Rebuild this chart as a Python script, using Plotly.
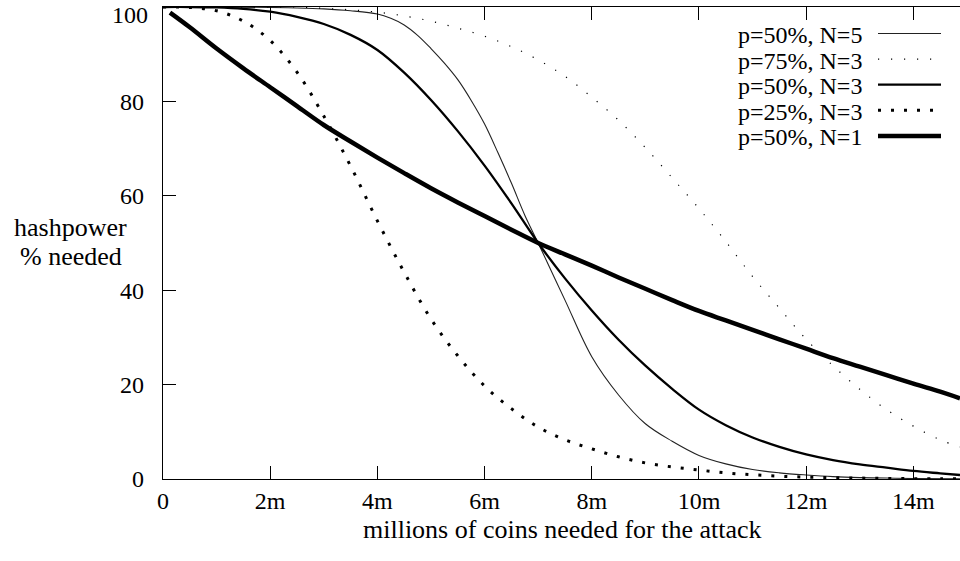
import plotly.graph_objects as go

# ---------------- data ----------------
x_grid = [0, 0.5, 1, 1.5, 2, 2.5, 3, 3.5, 4, 4.5, 5, 5.5, 6, 6.5, 7, 7.5, 8, 8.5,
          9, 9.5, 10, 10.5, 11, 11.5, 12, 12.5, 13, 13.5, 14, 14.5, 14.87]
x_n5 = [0, 1, 2, 2.5, 3, 3.5, 4, 4.25, 4.5, 4.75, 5, 5.25, 5.5, 5.75, 6, 6.25, 6.5,
        6.75, 7, 7.5, 8, 8.5, 9, 9.5, 10, 10.5, 11, 11.5, 12, 12.5, 13, 13.5, 14, 14.87]
x_n1 = [0.13, 0.5, 1, 1.5, 2, 2.5, 3, 3.5, 4, 4.5, 5, 5.5, 6, 6.5, 7, 7.5, 8, 8.5,
        9, 9.5, 10, 10.5, 11, 11.5, 12, 12.5, 13, 13.5, 14, 14.5, 14.87]

y_p50_n5 = [100, 100, 99.9, 99.8, 99.6, 99.2, 98.5, 97.6, 96.2, 94.0, 91.2, 88.1, 84.6,
            80.2, 75.2, 69.1, 62.7, 55.9, 50.0, 37.9, 25.9, 17.8, 11.7, 8.0, 5.0, 3.2,
            2.0, 1.3, 0.85, 0.5, 0.3, 0.2, 0.1, 0.03]
y_p75_n3 = [100, 100, 100, 100, 100, 100, 99.7, 99.4, 98.9, 98.1, 97.0, 95.5, 93.8,
            91.6, 88.8, 85.3, 80.9, 76.0, 70.2, 63.8, 57.3, 50.3, 42.9, 36.2, 29.6,
            24.0, 19.0, 14.7, 11.2, 8.3, 6.8]
y_p50_n3 = [100, 100, 99.9, 99.6, 99.0, 97.9, 96.4, 94.1, 90.9, 86.1, 80.3, 73.7, 66.4,
            58.4, 50.0, 42.5, 35.7, 29.5, 24.0, 19.1, 14.7, 11.4, 8.8, 6.8, 5.2, 4.0,
            3.1, 2.4, 1.7, 1.2, 0.85]
y_p25_n3 = [100, 99.9, 99.2, 97.0, 92.9, 86.2, 76.9, 66.3, 54.7, 43.8, 33.9, 26.1, 19.7,
            14.9, 11.0, 8.3, 6.4, 4.7, 3.4, 2.55, 1.9, 1.3, 0.9, 0.6, 0.4, 0.3, 0.2,
            0.12, 0.08, 0.05, 0.03]
y_p50_n1 = [98.8, 95.7, 91.2, 87.0, 83.0, 79.0, 75.0, 71.5, 68.1, 64.8, 61.6, 58.6, 55.7,
            52.8, 50.0, 47.6, 45.2, 42.7, 40.3, 37.9, 35.6, 33.6, 31.6, 29.6, 27.6, 25.6,
            23.8, 22.0, 20.2, 18.5, 17.1]

series_names = ["p=50%, N=5", "p=75%, N=3", "p=50%, N=3", "p=25%, N=3", "p=50%, N=1"]

x_tick_vals = [0, 2, 4, 6, 8, 10, 12, 14]
x_tick_text = ["0", "2m", "4m", "6m", "8m", "10m", "12m", "14m"]
y_tick_vals = [0, 20, 40, 60, 80, 100]
y_tick_text = ["0", "20", "40", "60", "80", "100"]

x_title = "millions of coins needed for the attack"
y_title_lines = ["hashpower", "% needed"]

# ---------------- styling ----------------
FONT = "Liberation Serif, DejaVu Serif, serif"
FS = 26       # axis titles
FS_KEY = 24   # key entries
FS_TICK = 24  # tick labels
styles = [
    dict(width=1.1, dash="solid", color="#222"),
    dict(width=1.2, dash="1.2px,11.8px", color="#000"),
    dict(width=2.3, dash="solid", color="#000"),
    dict(width=3.0, dash="3px,10px", color="#000"),
    dict(width=4.5, dash="solid", color="#000"),
]
xs = [x_n5, x_grid, x_grid, x_grid, x_n1]
ys = [y_p50_n5, y_p75_n3, y_p50_n3, y_p25_n3, y_p50_n1]

fig = go.Figure()
for name, x, y, st in zip(series_names, xs, ys, styles):
    fig.add_trace(go.Scatter(
        x=x, y=y, mode="lines", name=name, showlegend=False, hoverinfo="skip",
        line=dict(color=st["color"], width=st["width"], dash=st["dash"],
                  shape="spline", smoothing=1.0),
    ))

W, H = 960, 561
L, R, T, B = 163, 0, 7, 82
pw, ph = W - L - R, H - T - B


def px2paper_x(px):
    return (px - L) / pw


def px2paper_y(py):
    return (H - B - py) / ph


annotations = []
shapes = []
# gnuplot-style key: right-aligned text, sample line to its right
for i, (name, st) in enumerate(zip(series_names, styles)):
    yc = 35 + 25.6 * i
    annotations.append(dict(
        x=px2paper_x(864), y=px2paper_y(yc), xref="paper", yref="paper",
        text=name, showarrow=False, xanchor="right", yanchor="middle",
        font=dict(family=FONT, size=FS_KEY, color="black"),
    ))
    shapes.append(dict(
        type="line", xref="paper", yref="paper",
        x0=px2paper_x(878), x1=px2paper_x(941),
        y0=px2paper_y(yc - 1.5), y1=px2paper_y(yc - 1.5),
        line=dict(color=st["color"], width=st["width"], dash=st["dash"]),
    ))

# top tick label (placed just below the frame like the reference)
annotations.append(dict(
    x=px2paper_x(150), y=px2paper_y(15), xref="paper", yref="paper",
    text=y_tick_text[-1], showarrow=False, xanchor="right", yanchor="middle",
    font=dict(family=FONT, size=FS_TICK, color="black"),
))

# axis titles
annotations.append(dict(
    x=px2paper_x(70), y=px2paper_y(227), xref="paper", yref="paper",
    text=y_title_lines[0], showarrow=False, xanchor="center", yanchor="middle",
    font=dict(family=FONT, size=FS, color="black"),
))
annotations.append(dict(
    x=px2paper_x(71), y=px2paper_y(256), xref="paper", yref="paper",
    text=y_title_lines[1], showarrow=False, xanchor="center", yanchor="middle",
    font=dict(family=FONT, size=FS, color="black"),
))
annotations.append(dict(
    x=px2paper_x(562), y=px2paper_y(529), xref="paper", yref="paper",
    text=x_title, showarrow=False, xanchor="center", yanchor="middle",
    font=dict(family=FONT, size=FS, color="black"),
))

axis_common = dict(
    showgrid=False, zeroline=False, showline=True, linecolor="black", linewidth=1.3,
    ticks="inside", ticklen=13, tickwidth=1, tickcolor="black",
    tickfont=dict(family=FONT, size=FS_TICK, color="black"),
)

fig.update_layout(
    width=W, height=H,
    margin=dict(l=L, r=R, t=T, b=B, pad=0),
    plot_bgcolor="white", paper_bgcolor="white",
    showlegend=False,
    hovermode=False,
    xaxis=dict(range=[0, 14.87], tickvals=x_tick_vals, ticktext=x_tick_text,
               mirror="ticks", ticklabelstandoff=0, **axis_common),
    yaxis=dict(range=[0, 100], tickvals=y_tick_vals[:-1], ticktext=y_tick_text[:-1],
               ticklabelstandoff=13, **axis_common),
    yaxis2=dict(overlaying="y", side="right", anchor="x", range=[0, 100],
                tickvals=y_tick_vals, ticks="inside", ticklen=6, tickwidth=1,
                tickcolor="black", showticklabels=False, showline=False,
                showgrid=False, zeroline=False),
    annotations=annotations,
    shapes=shapes,
)

fig.write_html(
    "out.html",
    config={"displayModeBar": False, "staticPlot": True},
    post_script="document.body.style.margin='0';document.body.style.overflow='hidden';",
)
